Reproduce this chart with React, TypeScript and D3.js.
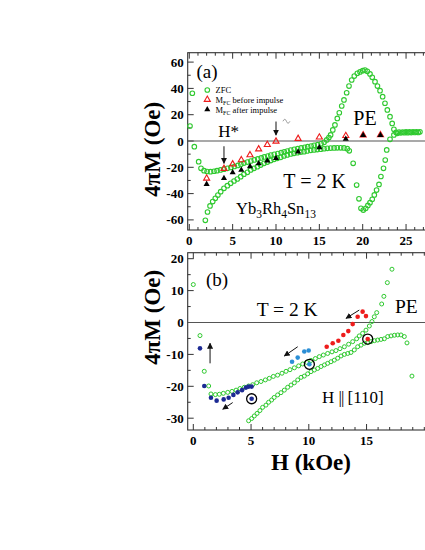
import React from "react";
import * as d3 from "d3";

// ---- panel (a) data: H (kOe), 4piM (Oe) ----
const zfcAInc: [number, number][] = [
  [1.85, -60.3], [2.1, -54], [2.39, -49.4], [2.7, -46.1], [3.0, -43.6], [3.3, -41.1], [3.62, -38.5],
  [4.0, -36], [4.39, -34], [4.77, -32.2], [5.16, -30.4], [5.54, -28.9], [5.93, -27.1], [6.3, -25.3],
  [6.7, -23.8], [7.08, -22], [7.46, -20.8], [7.85, -19.5], [8.23, -18.3], [8.62, -17], [9.0, -16],
  [9.39, -14.9], [9.77, -13.9], [10.15, -13.2], [10.54, -12.4], [10.92, -11.4], [11.3, -10.6],
  [11.7, -9.9], [12.07, -9.4], [12.46, -8.9], [12.85, -8.4], [13.23, -8.1], [13.6, -7.6], [14.0, -7.1],
  [14.38, -6.8], [14.76, -6.5], [15.15, -6.2], [15.54, -5.9], [15.92, -5.6], [16.3, -5.4], [16.7, -5.3],
  [17.07, -5.2], [17.46, -5.2], [17.84, -5.3], [18.22, -5.8], [18.45, -7.5], [18.9, -17], [19.3, -33.5],
  [19.57, -44], [19.8, -51.2], [20.07, -52.5], [20.35, -51.2], [20.6, -49], [20.84, -46.9], [21.1, -44.3],
  [21.34, -41], [21.6, -37.3], [21.88, -33], [22.1, -27], [22.4, -20.8], [22.6, -14.5], [22.77, -6.8],
  [23.15, 1.3], [23.6, 4.6], [24.0, 5.8], [24.4, 6.2], [24.8, 6.3], [25.2, 6.3], [25.6, 6.4], [26.0, 6.5],
  [26.4, 6.5],
];
const zfcADec: [number, number][] = [
  [0.08, 11.4], [0.35, 36.3], [0.58, -4.3], [1.08, -15.7], [1.35, -20.8], [1.7, -22.6], [2.05, -23.2],
  [2.45, -23.3], [2.85, -23], [3.2, -22.6], [3.6, -22], [4.0, -21.4], [4.4, -20.8], [4.8, -20.1],
  [5.2, -19.4], [5.6, -18.6], [5.95, -17.7], [6.3, -16.8], [6.7, -16], [7.1, -15.2], [7.5, -14.4],
  [7.9, -13.6], [8.3, -12.9], [8.65, -12.1], [9.05, -11.4], [9.4, -10.7], [9.8, -10.1], [10.2, -9.5],
  [10.6, -8.9], [10.95, -8.2], [11.3, -7.6], [11.7, -6.9], [12.1, -6.3], [12.5, -5.8], [12.9, -5.3],
  [13.3, -4.8], [13.65, -4.3], [14.05, -3.8], [14.4, -3.3], [14.8, -2.8], [15.2, -2.1], [15.55, -1.0],
  [15.85, 0.8], [16.1, 2.6], [16.3, 4.6], [16.55, 8.4], [16.8, 12.2], [17.07, 17.2], [17.3, 21.5],
  [17.58, 26.6], [17.84, 31.2], [18.15, 36.7], [18.42, 41.8], [18.73, 46.4], [19.03, 49.4], [19.38, 51.5],
  [19.69, 52.5], [20.0, 53.5], [20.26, 54], [20.53, 53], [20.84, 51], [21.1, 48.4], [21.42, 45.1],
  [21.7, 41.8], [22.0, 38.3], [22.3, 33.7], [22.57, 28.7], [22.84, 23.6], [23.15, 18.5], [23.4, 13.4],
  [23.6, 8.9], [23.85, 6.5], [24.2, 6.8], [24.6, 6.8], [25.0, 6.9], [25.4, 6.9], [25.8, 7], [26.2, 7],
  [26.6, 7],
];
const fcH = [2, 4, 5, 6, 7, 8, 9, 10, 12.55, 15, 18.05, 20.05, 22.05];
const fcBefore = [-28.4, -21, -17.6, -14.4, -10.6, -6.2, -2.8, -0.3, 1.8, 2.8, 4.0, 4.5, 4.6];
const fcAfter = [-32.8, -28.4, -24, -22, -19.3, -17.1, -15, -13.2, -8.1, -5, 1.5, 4.3, 4.4];

// ---- panel (b) data ----
const zfcBDec: [number, number][] = [
  [0, 11.9], [0.58, -4.1], [0.95, -15.3], [1.33, -19.9], [1.53, -22.4], [1.91, -22.6], [2.25, -22.5],
  [2.6, -22.2], [2.98, -21.9], [3.35, -21.6], [3.7, -21.2], [4.04, -20.7], [4.42, -20.3], [4.79, -19.9],
  [5.14, -19.5], [5.49, -18.9], [5.86, -18.5], [6.24, -18.0], [6.58, -17.5], [6.93, -16.9], [7.3, -16.5],
  [7.68, -15.9], [8.03, -15.3], [8.37, -14.8], [8.75, -14.2], [9.12, -13.6], [9.47, -13.0], [9.82, -12.5],
  [10.19, -11.9], [10.57, -11.3], [10.91, -10.7], [11.26, -10.2], [11.63, -9.7], [12.01, -9.2],
  [12.35, -8.8], [12.7, -8.2], [13.08, -7.6], [13.45, -6.8], [13.8, -6.0], [14.14, -5.1], [14.37, -4.2],
  [14.66, -3.4], [14.95, -2.4], [15.24, -1.1], [15.47, 0.3], [15.67, 1.8], [15.88, 3.1], [16.31, 5.8],
  [16.5, 8.2], [16.8, 12.5], [17.2, 16.7],
];
const zfcBInc: [number, number][] = [
  [4.79, -30.8], [5.05, -30.1], [5.28, -29.3], [5.52, -28.5], [5.77, -27.6], [6.0, -26.6], [6.29, -25.9],
  [6.52, -25.0], [6.78, -24.3], [7.0, -23.5], [7.3, -22.7], [7.59, -22.0], [7.88, -21.2], [8.17, -20.3],
  [8.46, -19.6], [8.75, -18.9], [9.04, -18.0], [9.33, -17.2], [9.61, -16.8], [9.9, -16.1], [10.19, -15.4],
  [10.48, -14.9], [10.77, -14.4], [11.06, -13.8], [11.35, -13.3], [11.63, -12.8], [11.92, -12.3],
  [12.21, -11.8], [12.5, -11.2], [12.79, -10.5], [13.08, -10.0], [13.37, -9.7], [13.65, -9.4],
  [13.94, -8.6], [14.23, -7.6], [14.52, -7.1], [14.81, -6.5], [15.1, -6.3], [15.39, -6.0], [15.68, -5.7],
  [15.96, -5.5], [16.25, -5.3], [16.54, -5.1], [16.83, -4.4], [17.12, -4.2], [17.41, -4.0], [17.7, -3.9],
  [17.98, -3.9], [18.27, -4.4], [18.5, -6.4], [18.93, -16.8],
];
const navyPts: [number, number][] = [
  [0.58, -8.1], [0.95, -19.9], [1.53, -23.6], [2.02, -24.5], [2.63, -24.1], [3.06, -23.6], [3.47, -22.7],
  [3.84, -21.9], [4.22, -21.2], [4.56, -20.4], [4.79, -20.1], [5.05, -20.1],
];
const lightPts: [number, number][] = [[8.55, -12.3], [9.04, -11.0], [9.61, -9.1], [9.99, -8.8]];
const redPts: [number, number][] = [
  [11.55, -7.6], [12.07, -6.5], [12.56, -5.7], [12.99, -3.9], [13.42, -2.7], [13.8, -0.5], [14.23, 1.8],
  [14.66, 3.4], [14.95, 2.0],
];
const ringedPts: [number, number, string][] = [
  [5.05, -23.9, "navy"], [10.05, -13.1, "light"], [15.1, -5.2, "red"],
];

const COL: Record<string, string> = {
  green: "#2fc92f",
  red: "#ee1c1c",
  navy: "#1c2a94",
  light: "#2b8fd6",
};
const FONT = "'Liberation Serif', 'Times New Roman', serif";

// scales
const xA = d3.scaleLinear().domain([0, 25]).range([189.3, 406.05]);
const yA = d3.scaleLinear().domain([-60, 60]).range([219.9, 62.1]);
const xB = d3.scaleLinear().domain([0, 15]).range([193.3, 366.55]);
const yB = d3.scaleLinear().domain([-30, 20]).range([418.2, 258.7]);

const tri = d3.symbol().type(d3.symbolTriangle).size(16);

type Frame = { left: number; right: number; top: number; bottom: number };

function Axes({ x, y, f, xTicks, xMinor, yTicks, yMinor }: {
  x: d3.ScaleLinear<number, number>; y: d3.ScaleLinear<number, number>; f: Frame;
  xTicks: number[]; xMinor: number[]; yTicks: number[]; yMinor: number[];
}) {
  const stroke = "#333";
  return (
    <g>
      <rect x={f.left} y={f.top} width={f.right - f.left} height={f.bottom - f.top}
        fill="none" stroke={stroke} strokeWidth={1.1} />
      {xMinor.map((v) => {
        const len = xTicks.includes(v) ? 6 : 3;
        return (
          <g key={"xm" + v}>
            <line x1={x(v)} x2={x(v)} y1={f.bottom} y2={f.bottom - len} stroke={stroke} />
            <line x1={x(v)} x2={x(v)} y1={f.top} y2={f.top + len} stroke={stroke} />
          </g>
        );
      })}
      {yMinor.map((v) => {
        const len = yTicks.includes(v) ? 6 : 3;
        return <line key={"ym" + v} x1={f.left} x2={f.left + len} y1={y(v)} y2={y(v)} stroke={stroke} />;
      })}
      {xTicks.map((v) => (
        <text key={"xl" + v} x={x(v)} y={f.bottom + 15} textAnchor="middle"
          fontFamily={FONT} fontWeight="bold" fontSize={13}>{v}</text>
      ))}
      {yTicks.map((v) => (
        <text key={"yl" + v} x={f.left - 4} y={y(v) + 4.5} textAnchor="end"
          fontFamily={FONT} fontWeight="bold" fontSize={13}>{v}</text>
      ))}
      <line x1={f.left} x2={f.right} y1={y(0)} y2={y(0)} stroke="#555" strokeWidth={1.2} />
    </g>
  );
}

function Arrow({ x1, y1, x2, y2 }: { x1: number; y1: number; x2: number; y2: number }) {
  return <line x1={x1} y1={y1} x2={x2} y2={y2} stroke="#111" strokeWidth={1} markerEnd="url(#ah)" />;
}

export default function App() {
  const fA: Frame = { left: 187.7, right: 430, top: 52.7, bottom: 230 };
  const fB: Frame = { left: 187.7, right: 430, top: 252.7, bottom: 430 };
  const rA = 2.3;
  const rB = 2.0;
  return (
    <svg width={425} height={550} style={{ position: "absolute", left: 0, top: 0, background: "#fff" }}>
      <defs>
        <marker id="ah" viewBox="0 0 10 10" refX={9} refY={5} markerWidth={6} markerHeight={6} orient="auto">
          <path d="M0,0 L10,5 L0,10 z" fill="#111" />
        </marker>
      </defs>

      {/* ---------- panel (a) ---------- */}
      <Axes x={xA} y={yA} f={fA} xTicks={d3.range(0, 30, 5)} xMinor={d3.range(0, 28, 1)}
        yTicks={d3.range(-60, 61, 20)} yMinor={d3.range(-60, 61, 10)} />
      {[...zfcAInc, ...zfcADec].map((d, i) => (
        <circle key={"za" + i} cx={xA(d[0])} cy={yA(d[1])} r={rA} fill="none" stroke={COL.green} strokeWidth={1.1} />
      ))}
      {fcH.map((h, i) => (
        <path key={"fb" + i} d={tri() as string} transform={`translate(${xA(h)},${yA(fcBefore[i])})`}
          fill="none" stroke={COL.red} strokeWidth={1.1} />
      ))}
      {fcH.map((h, i) => (
        <path key={"fa" + i} d={tri() as string} transform={`translate(${xA(h)},${yA(fcAfter[i])})`} fill="#000" />
      ))}
      {/* legend */}
      <circle cx={207.3} cy={90} r={rA} fill="none" stroke={COL.green} strokeWidth={1.1} />
      <text x={215.5} y={93} fontFamily={FONT} fontSize={8.5}>ZFC</text>
      <path d={tri() as string} transform="translate(207.3,99.6)" fill="none" stroke={COL.red} strokeWidth={1.1} />
      <text x={215.5} y={102.5} fontFamily={FONT} fontSize={8.5}>
        M<tspan dy={2} fontSize={6}>FC</tspan><tspan dy={-2}> before impulse</tspan>
      </text>
      <path d={tri() as string} transform="translate(207.3,109.6)" fill="#000" />
      <text x={215.5} y={112.5} fontFamily={FONT} fontSize={8.5}>
        M<tspan dy={2} fontSize={6}>FC</tspan><tspan dy={-2}> after impulse</tspan>
      </text>
      <text x={196.5} y={77.5} fontFamily={FONT} fontSize={19}>(a)</text>
      <text x={218.3} y={137} fontFamily={FONT} fontSize={17}>H*</text>
      <Arrow x1={xA(4)} y1={yA(-4)} x2={xA(4)} y2={yA(-17)} />
      <Arrow x1={xA(10)} y1={yA(14.8)} x2={xA(10)} y2={yA(4.5)} />
      <path d={`M${xA(10.8)},${yA(15)} q${2},${-4} ${3.5},0 t${3.5},0`} fill="none" stroke="#888" strokeWidth={0.8} />
      <text x={353.3} y={125} fontFamily={FONT} fontSize={20}>PE</text>
      <text x={283.3} y={188.3} fontFamily={FONT} fontSize={20}>T = 2 K</text>
      <text x={236} y={214} fontFamily={FONT} fontSize={16.5}>
        Yb<tspan dy={4} fontSize={11.5}>3</tspan><tspan dy={-4}>Rh</tspan><tspan dy={4} fontSize={11.5}>4</tspan>
        <tspan dy={-4}>Sn</tspan><tspan dy={4} fontSize={11.5}>13</tspan>
      </text>

      {/* ---------- panel (b) ---------- */}
      <Axes x={xB} y={yB} f={fB} xTicks={d3.range(0, 20, 5)} xMinor={d3.range(0, 21, 1)}
        yTicks={d3.range(-30, 21, 10)} yMinor={d3.range(-30, 21, 5)} />
      {[...zfcBDec, ...zfcBInc].map((d, i) => (
        <circle key={"zb" + i} cx={xB(d[0])} cy={yB(d[1])} r={rB} fill="none" stroke={COL.green} strokeWidth={1} />
      ))}
      {navyPts.map((d, i) => <circle key={"nv" + i} cx={xB(d[0])} cy={yB(d[1])} r={2.3} fill={COL.navy} />)}
      {lightPts.map((d, i) => <circle key={"lb" + i} cx={xB(d[0])} cy={yB(d[1])} r={2.3} fill={COL.light} />)}
      {redPts.map((d, i) => <circle key={"rd" + i} cx={xB(d[0])} cy={yB(d[1])} r={2.3} fill={COL.red} />)}
      {ringedPts.map((d, i) => (
        <g key={"rg" + i}>
          <circle cx={xB(d[0])} cy={yB(d[1])} r={2.3} fill={COL[d[2]]} />
          <circle cx={xB(d[0])} cy={yB(d[1])} r={5} fill="none" stroke="#000" strokeWidth={1.3} />
        </g>
      ))}
      <Arrow x1={xB(1.45)} y1={yB(-12.8)} x2={xB(1.45)} y2={yB(-6.5)} />
      <Arrow x1={xB(3.41)} y1={yB(-25.1)} x2={xB(2.55)} y2={yB(-27.2)} />
      <Arrow x1={xB(9.04)} y1={yB(-7.6)} x2={xB(7.88)} y2={yB(-10.5)} />
      <Arrow x1={xB(14.37)} y1={yB(3.9)} x2={xB(13.22)} y2={yB(1.3)} />
      <text x={206} y={285.5} fontFamily={FONT} fontSize={19}>(b)</text>
      <text x={256.7} y={315.5} fontFamily={FONT} fontSize={19.5}>T = 2 K</text>
      <text x={395} y={313} fontFamily={FONT} fontSize={19.5}>PE</text>
      <text x={322} y={403} fontFamily={FONT} fontSize={17}>
        H <tspan letterSpacing={-1}>||</tspan> [110]
      </text>

      {/* axis titles */}
      <text transform={`translate(160,${(fA.top + fA.bottom) / 2 + 8}) rotate(-90)`} textAnchor="middle"
        fontFamily={FONT} fontWeight="bold" fontSize={23}>4πM (Oe)</text>
      <text transform={`translate(160,${(fB.top + fB.bottom) / 2 - 24}) rotate(-90)`} textAnchor="middle"
        fontFamily={FONT} fontWeight="bold" fontSize={23}>4πM (Oe)</text>
      <text x={311} y={470} textAnchor="middle" fontFamily={FONT} fontWeight="bold" fontSize={23}>H (kOe)</text>
    </svg>
  );
}
